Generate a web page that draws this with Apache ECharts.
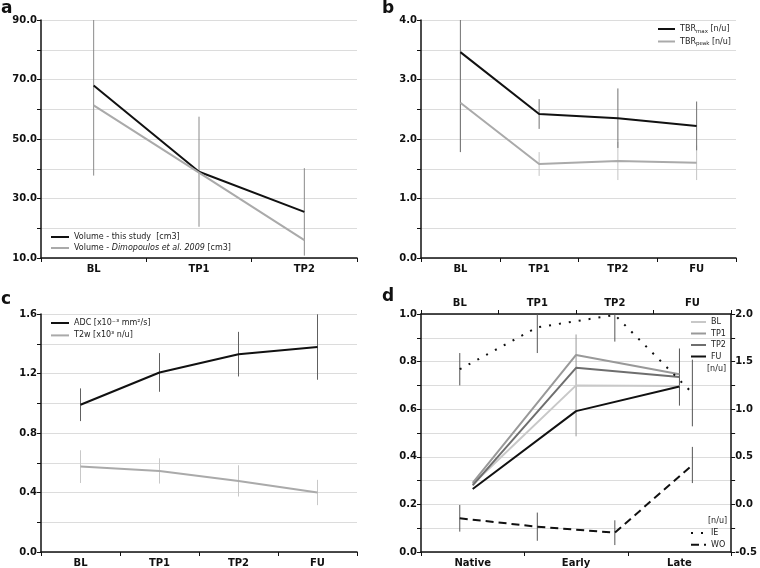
<!DOCTYPE html>
<html>
<head>
<meta charset="utf-8">
<script src="https://cdn.jsdelivr.net/npm/echarts@6/dist/echarts.min.js"></script>
<style>html,body{margin:0;padding:0;background:#fff}#c{width:760px;height:568px}</style>
</head>
<body>
<div id="c"></div>
<script>
// ---- data ----
const catsA = ['BL', 'TP1', 'TP2'];
const catsTime = ['BL', 'TP1', 'TP2', 'FU'];
const catsPhase = ['Native', 'Early', 'Late'];

const volThis = [68.0, 39.0, 25.5];
const volThisErr = [30.3, 18.5, 14.7];
const volDimo = [61.3, 38.7, 16.0];

const tbrMax = [3.46, 2.42, 2.35, 2.22];
const tbrMaxErr = [1.68, 0.25, 0.50, 0.41];
const tbrPeak = [2.61, 1.58, 1.63, 1.60];
const tbrPeakErr = [0.83, 0.20, 0.32, 0.29];

const adc = [0.99, 1.207, 1.33, 1.378];
const adcErr = [0.11, 0.13, 0.15, 0.22];
const t2w = [0.574, 0.545, 0.478, 0.40];
const t2wErr = [0.11, 0.085, 0.105, 0.085];

const gradBL = [0.285, 0.700, 0.697];
const gradTP1 = [0.290, 0.828, 0.747];
const gradTP2 = [0.280, 0.774, 0.735];
const gradFU = [0.265, 0.592, 0.695];
const gradBLErr = [0, 0.214, 0];
const gradTP2Err = [0, 0, 0.12];

const ie = [1.42, 1.86, 1.99, 1.17];
const ieErr = [0.17, 0.27, 0.28, 0.35];
const wo = [-0.146, -0.234, -0.297, 0.414];
const woErr = [0.14, 0.148, 0.13, 0.19];

// ---- helpers ----
const FF = 'DejaVu Sans';
const labelStyle = {fontFamily: FF, fontWeight: 'bold', fontSize: 10, color: '#111'};
const axisLine = {show: true, onZero: false, lineStyle: {color: '#111', width: 1.5}};
const tick = {show: true, length: 4, lineStyle: {color: '#111', width: 1}};

function xCat(grid, data, pos) {
  return {type: 'category', gridIndex: grid, data: data, position: pos || 'bottom',
    boundaryGap: true, axisLine: axisLine, axisTick: tick,
    axisLabel: Object.assign({margin: 6}, labelStyle), splitLine: {show: false}};
}
function yVal(grid, min, max, interval, showEvery, dec, pos, grid2) {
  return {type: 'value', gridIndex: grid, min: min, max: max, interval: interval, position: pos || 'left',
    axisLine: axisLine, axisTick: tick,
    axisLabel: Object.assign({margin: 4, formatter: function (v) {
      const k = Math.round((v - min) / interval);
      return (k % showEvery === 0) ? v.toFixed(dec) : '';
    }}, labelStyle),
    splitLine: {show: grid2 !== false, lineStyle: {color: '#dcdcdc', width: 1}}};
}
function line(name, xi, yi, data, color, type) {
  return {name: name, type: 'line', xAxisIndex: xi, yAxisIndex: yi, data: data, symbol: 'none',
    lineStyle: {color: color, width: 2, type: type || 'solid'}, itemStyle: {color: color}, z: 3, silent: true};
}
function err(xi, yi, means, errs, color) {
  const d = [];
  means.forEach(function (m, i) { if (errs[i] > 0) d.push([i, m - errs[i], m + errs[i]]); });
  return {type: 'custom', xAxisIndex: xi, yAxisIndex: yi, clip: true, silent: true, z: 2,
    data: d, encode: {x: 0, y: [1, 2]},
    renderItem: function (params, api) {
      const lo = api.coord([api.value(0), api.value(1)]);
      const hi = api.coord([api.value(0), api.value(2)]);
      return {type: 'line', shape: {x1: lo[0], y1: lo[1], x2: hi[0], y2: hi[1]},
        style: {stroke: color, lineWidth: 1}};
    }};
}
const legText = {fontFamily: FF, fontSize: 8, color: '#222'};
const noSym = {color: 'transparent', borderColor: 'transparent', borderWidth: 0, opacity: 0};

const chart = echarts.init(document.getElementById('c'), null, {renderer: 'canvas'});
chart.setOption({
  animation: false,
  backgroundColor: '#fff',
  grid: [
    {left: 41, top: 20, width: 316, height: 238},
    {left: 421, top: 20, width: 315, height: 238},
    {left: 41, top: 314, width: 316, height: 238},
    {left: 421, top: 314, width: 316, height: 238}
  ],
  xAxis: [
    xCat(0, catsA),
    xCat(1, catsTime),
    xCat(2, catsTime),
    xCat(3, catsPhase, 'bottom'),
    xCat(3, catsTime, 'top')
  ],
  yAxis: [
    yVal(0, 10, 90, 10, 2, 1),
    yVal(1, 0, 4, 0.5, 2, 1),
    yVal(2, 0, 1.6, 0.2, 2, 1),
    yVal(3, 0, 1.0, 0.1, 2, 1),
    yVal(3, -0.5, 2.0, 0.25, 2, 1, 'right', false)
  ],
  legend: [
    {data: ['volThis', 'volDimo'], orient: 'vertical', left: 50, top: 233, padding: 0, itemWidth: 18, itemHeight: 8, itemGap: 3,
      itemStyle: noSym,
      textStyle: Object.assign({rich: {i: {fontFamily: FF, fontSize: 8, fontStyle: 'italic', color: '#222'}}}, legText),
      formatter: function (n) { return n === 'volThis' ? 'Volume - this study  [cm3]' : 'Volume - {i|Dimopoulos et al. 2009} [cm3]'; }},
    {data: ['tbrMax', 'tbrPeak'], orient: 'vertical', left: 657, top: 25, padding: 0, itemWidth: 17, itemHeight: 8, itemGap: 3,
      itemStyle: noSym,
      textStyle: Object.assign({rich: {
        a: {fontFamily: FF, fontSize: 8, color: '#222', lineHeight: 11},
        s: {fontFamily: FF, fontSize: 5.5, color: '#222', verticalAlign: 'bottom'}}}, legText),
      formatter: function (n) { return n === 'tbrMax' ? '{a|TBR}{s|max}{a| [n/u]}' : '{a|TBR}{s|peak}{a| [n/u]}'; }},
    {data: ['adc', 't2w'], orient: 'vertical', left: 50, top: 319, padding: 0, itemWidth: 18, itemHeight: 8, itemGap: 4.4,
      itemStyle: noSym, textStyle: legText,
      formatter: function (n) { return n === 'adc' ? 'ADC [x10\u207B\u00B3 mm\u00B2/s]' : 'T2w [x10\u00B3 n/u]'; }},
    {data: ['BL', 'TP1', 'TP2', 'FU'], orient: 'vertical', left: 690, top: 318, padding: 0, itemWidth: 15, itemHeight: 8, itemGap: 3.5,
      itemStyle: noSym, textStyle: legText},
    {data: ['IE', 'WO'], orient: 'vertical', left: 690, top: 529, padding: 0, itemWidth: 15, itemHeight: 8, itemGap: 3.7,
      itemStyle: noSym, textStyle: legText}
  ],
  graphic: [
    {type: 'text', left: 1, top: 0, style: {text: 'a', font: 'bold 17px ' + FF, fill: '#111'}},
    {type: 'text', left: 382, top: 0, style: {text: 'b', font: 'bold 17px ' + FF, fill: '#111'}},
    {type: 'text', left: 1, top: 291, style: {text: 'c', font: 'bold 17px ' + FF, fill: '#111'}},
    {type: 'text', left: 382, top: 288, style: {text: 'd', font: 'bold 17px ' + FF, fill: '#111'}},
    {type: 'text', left: 707, top: 365, style: {text: '[n/u]', font: '8px ' + FF, fill: '#222'}},
    {type: 'text', left: 708, top: 517, style: {text: '[n/u]', font: '8px ' + FF, fill: '#222'}}
  ],
  series: [
    err(0, 0, volThis, volThisErr, '#8a8a8a'),
    line('volThis', 0, 0, volThis, '#111'),
    line('volDimo', 0, 0, volDimo, '#aaaaaa'),

    err(1, 1, tbrPeak, tbrPeakErr, '#c4c4c4'),
    err(1, 1, tbrMax, tbrMaxErr, '#707070'),
    line('tbrMax', 1, 1, tbrMax, '#111'),
    line('tbrPeak', 1, 1, tbrPeak, '#aaaaaa'),

    err(2, 2, t2w, t2wErr, '#c8c8c8'),
    err(2, 2, adc, adcErr, '#606060'),
    line('adc', 2, 2, adc, '#111'),
    line('t2w', 2, 2, t2w, '#aaaaaa'),

    err(3, 3, gradBL, gradBLErr, '#999999'),
    err(3, 3, gradTP2, gradTP2Err, '#555555'),
    line('BL', 3, 3, gradBL, '#c8c8c8'),
    line('TP1', 3, 3, gradTP1, '#999999'),
    line('TP2', 3, 3, gradTP2, '#6e6e6e'),
    line('FU', 3, 3, gradFU, '#111'),

    err(4, 4, ie, ieErr, '#555555'),
    err(4, 4, wo, woErr, '#555555'),
    line('IE', 4, 4, ie, '#111', [2, 8]),
    line('WO', 4, 4, wo, '#111', [8, 5])
  ]
});
</script>
</body>
</html>
